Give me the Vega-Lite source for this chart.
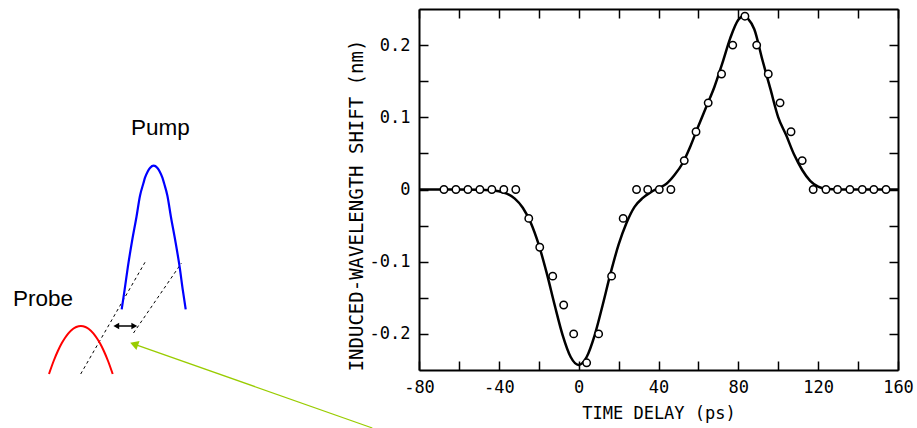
{
  "$schema": "https://vega.github.io/schema/vega-lite/v6.json",
  "background": "white",
  "padding": {"left": 0, "top": 8, "right": 0, "bottom": 0},
  "autosize": {"type": "pad"},
  "spacing": 0,
  "bounds": "flush",
  "config": {
    "view": {"stroke": null},
    "axis": {
      "grid": false,
      "domainColor": "black",
      "domainWidth": 2,
      "tickColor": "black",
      "tickWidth": 1.5,
      "labelFont": "DejaVu Sans Mono",
      "labelFontSize": 17,
      "labelColor": "#000",
      "titleFont": "DejaVu Sans Mono",
      "titleColor": "#000",
      "titleFontWeight": "normal"
    }
  },
  "datasets": {
    "diagram": [
      {"part": "pump", "x": 121.7, "y": 118.7},
      {"part": "pump", "x": 124.5, "y": 137.3},
      {"part": "pump", "x": 127.9, "y": 161.3},
      {"part": "pump", "x": 132.1, "y": 187.3},
      {"part": "pump", "x": 136.5, "y": 211.3},
      {"part": "pump", "x": 140.0, "y": 232.3},
      {"part": "pump", "x": 143.4, "y": 244.7},
      {"part": "pump", "x": 145.0, "y": 250.3},
      {"part": "pump", "x": 147.6, "y": 256.3},
      {"part": "pump", "x": 150.2, "y": 260.3},
      {"part": "pump", "x": 153.7, "y": 262.3},
      {"part": "pump", "x": 157.2, "y": 260.3},
      {"part": "pump", "x": 159.8, "y": 256.3},
      {"part": "pump", "x": 162.4, "y": 250.3},
      {"part": "pump", "x": 164.1, "y": 244.7},
      {"part": "pump", "x": 167.4, "y": 232.3},
      {"part": "pump", "x": 170.9, "y": 211.3},
      {"part": "pump", "x": 175.3, "y": 187.3},
      {"part": "pump", "x": 179.6, "y": 161.3},
      {"part": "pump", "x": 182.9, "y": 137.3},
      {"part": "pump", "x": 185.7, "y": 118.7},
      {"part": "probe", "x": 49.0, "y": 54},
      {"part": "probe", "x": 53.65, "y": 67},
      {"part": "probe", "x": 57.85, "y": 77},
      {"part": "probe", "x": 61.7, "y": 84.7},
      {"part": "probe", "x": 64.95, "y": 90},
      {"part": "probe", "x": 68.35, "y": 94.7},
      {"part": "probe", "x": 72.85, "y": 99},
      {"part": "probe", "x": 76.25, "y": 101},
      {"part": "probe", "x": 80.85, "y": 102},
      {"part": "probe", "x": 85.45, "y": 101},
      {"part": "probe", "x": 88.85, "y": 99},
      {"part": "probe", "x": 93.35, "y": 94.7},
      {"part": "probe", "x": 96.75, "y": 90},
      {"part": "probe", "x": 100.0, "y": 84.7},
      {"part": "probe", "x": 103.85, "y": 77},
      {"part": "probe", "x": 108.05, "y": 67},
      {"part": "probe", "x": 112.7, "y": 54},
      {"part": "guide", "id": "a", "x": 80.7, "y": 54},
      {"part": "guide", "id": "a", "x": 145.0, "y": 165.7},
      {"part": "guide", "id": "b", "x": 133.5, "y": 95},
      {"part": "guide", "id": "b", "x": 181.5, "y": 165},
      {"part": "delay", "x": 116.0, "y": 102},
      {"part": "delay", "x": 134.5, "y": 102},
      {"part": "delayLeftHead", "x": 116.3, "y": 102},
      {"part": "delayRightHead", "x": 134.3, "y": 102},
      {"part": "pointer", "x": 134.1, "y": 83.9},
      {"part": "pointer", "x": 372.3, "y": 0},
      {"part": "pointerHead", "x": 134.1, "y": 83.9},
      {"part": "label", "x": 160.3, "y": 293, "text": "Pump"},
      {"part": "label", "x": 43.0, "y": 122, "text": "Probe"}
    ],
    "curve": [
      {"delay": -80, "shift": 0},
      {"delay": -60, "shift": 0},
      {"delay": -50, "shift": -0.0002},
      {"delay": -44, "shift": -0.0009},
      {"delay": -40, "shift": -0.0024},
      {"delay": -36, "shift": -0.0057},
      {"delay": -32, "shift": -0.0126},
      {"delay": -28, "shift": -0.0252},
      {"delay": -24, "shift": -0.046},
      {"delay": -20, "shift": -0.0765},
      {"delay": -16, "shift": -0.1159},
      {"delay": -12, "shift": -0.1603},
      {"delay": -8, "shift": -0.202},
      {"delay": -4, "shift": -0.232},
      {"delay": 0, "shift": -0.243},
      {"delay": 4, "shift": -0.232},
      {"delay": 8, "shift": -0.202},
      {"delay": 12, "shift": -0.1603},
      {"delay": 16, "shift": -0.1159},
      {"delay": 20, "shift": -0.0765},
      {"delay": 24, "shift": -0.046},
      {"delay": 28, "shift": -0.024},
      {"delay": 32, "shift": -0.012},
      {"delay": 36, "shift": -0.004},
      {"delay": 40, "shift": 0.002},
      {"delay": 44, "shift": 0.008},
      {"delay": 48, "shift": 0.02},
      {"delay": 52, "shift": 0.036},
      {"delay": 56, "shift": 0.06},
      {"delay": 60, "shift": 0.088},
      {"delay": 64, "shift": 0.115},
      {"delay": 68, "shift": 0.142},
      {"delay": 72, "shift": 0.175},
      {"delay": 76, "shift": 0.21},
      {"delay": 80, "shift": 0.235},
      {"delay": 82.5, "shift": 0.24},
      {"delay": 85, "shift": 0.236},
      {"delay": 88, "shift": 0.222},
      {"delay": 92, "shift": 0.18},
      {"delay": 96, "shift": 0.14},
      {"delay": 100, "shift": 0.1},
      {"delay": 104, "shift": 0.075},
      {"delay": 108, "shift": 0.048},
      {"delay": 112, "shift": 0.027},
      {"delay": 116, "shift": 0.012},
      {"delay": 120, "shift": 0.004},
      {"delay": 124, "shift": 0.001},
      {"delay": 130, "shift": 0},
      {"delay": 160, "shift": 0}
    ],
    "points": [
      {"delay": -67.5, "shift": 0},
      {"delay": -61.5, "shift": 0},
      {"delay": -55.5, "shift": 0},
      {"delay": -49.5, "shift": 0},
      {"delay": -43.5, "shift": 0},
      {"delay": -37.5, "shift": 0},
      {"delay": -31.5, "shift": 0},
      {"delay": -25, "shift": -0.04},
      {"delay": -19.5, "shift": -0.08},
      {"delay": -13, "shift": -0.12},
      {"delay": -7.5, "shift": -0.16},
      {"delay": -2.5, "shift": -0.2},
      {"delay": 4, "shift": -0.24},
      {"delay": 10, "shift": -0.2},
      {"delay": 16.5, "shift": -0.12},
      {"delay": 22.3, "shift": -0.04},
      {"delay": 29, "shift": 0},
      {"delay": 34.6, "shift": 0},
      {"delay": 40.4, "shift": 0},
      {"delay": 46.2, "shift": 0},
      {"delay": 52.9, "shift": 0.04},
      {"delay": 58.8, "shift": 0.08},
      {"delay": 64.9, "shift": 0.12},
      {"delay": 71.6, "shift": 0.16},
      {"delay": 77.2, "shift": 0.2},
      {"delay": 83.3, "shift": 0.24},
      {"delay": 89.2, "shift": 0.2},
      {"delay": 95, "shift": 0.16},
      {"delay": 100.9, "shift": 0.12},
      {"delay": 106.4, "shift": 0.08},
      {"delay": 112, "shift": 0.04},
      {"delay": 117.5, "shift": 0},
      {"delay": 123.9, "shift": 0},
      {"delay": 129.7, "shift": 0},
      {"delay": 135.9, "shift": 0},
      {"delay": 142.1, "shift": 0},
      {"delay": 147.9, "shift": 0},
      {"delay": 154, "shift": 0}
    ]
  },
  "hconcat": [
    {
      "width": 419,
      "height": 419,
      "data": {"name": "diagram"},
      "encoding": {
        "x": {"field": "x", "type": "quantitative", "scale": {"domain": [0, 419], "nice": false, "zero": false}, "axis": null},
        "y": {"field": "y", "type": "quantitative", "scale": {"domain": [0, 419], "nice": false, "zero": false}, "axis": null}
      },
      "layer": [
        {
          "transform": [{"filter": "datum.part === 'guide'"}],
          "mark": {"type": "line", "color": "black", "strokeWidth": 1, "strokeDash": [3, 3]},
          "encoding": {"detail": {"field": "id"}}
        },
        {
          "transform": [{"filter": "datum.part === 'pump'"}],
          "mark": {"type": "line", "color": "#0000ff", "strokeWidth": 2.2, "interpolate": "monotone"}
        },
        {
          "transform": [{"filter": "datum.part === 'probe'"}],
          "mark": {"type": "line", "color": "#ff0000", "strokeWidth": 2, "interpolate": "monotone"}
        },
        {
          "transform": [{"filter": "datum.part === 'delay'"}],
          "mark": {"type": "line", "color": "black", "strokeWidth": 1.5}
        },
        {
          "transform": [{"filter": "datum.part === 'delayLeftHead'"}],
          "mark": {"type": "point", "shape": "triangle-left", "filled": true, "color": "black", "size": 45, "opacity": 1}
        },
        {
          "transform": [{"filter": "datum.part === 'delayRightHead'"}],
          "mark": {"type": "point", "shape": "triangle-right", "filled": true, "color": "black", "size": 45, "opacity": 1}
        },
        {
          "transform": [{"filter": "datum.part === 'pointer'"}],
          "mark": {"type": "line", "color": "#99cc00", "strokeWidth": 1.3}
        },
        {
          "transform": [{"filter": "datum.part === 'pointerHead'"}],
          "mark": {"type": "point", "shape": "triangle-up", "angle": 289.4, "filled": true, "color": "#99cc00", "size": 90, "opacity": 1}
        },
        {
          "transform": [{"filter": "datum.part === 'label'"}],
          "mark": {"type": "text", "font": "Liberation Sans", "fontSize": 22.5, "align": "center", "baseline": "alphabetic", "color": "black"},
          "encoding": {"text": {"field": "text"}}
        }
      ]
    },
    {
      "width": 479,
      "height": 361,
      "layer": [
        {
          "data": {"name": "curve"},
          "mark": {"type": "line", "interpolate": "monotone", "color": "black", "strokeWidth": 2.5},
          "encoding": {
            "x": {
              "field": "delay", "type": "quantitative",
              "scale": {"domain": [-80, 160], "nice": false, "zero": false},
              "axis": {
                "orient": "bottom",
                "values": [-80, -60, -40, -20, 0, 20, 40, 60, 80, 100, 120, 140, 160],
                "labelExpr": "datum.value % 40 === 0 ? (datum.value < 0 ? '-' + (-datum.value) : '' + datum.value) : ''",
                "labelFlush": false,
                "labelOverlap": false,
                "tickSize": -9,
                "labelPadding": 18,
                "title": "TIME DELAY (ps)",
                "titleFontSize": 17,
                "titlePadding": 10
              }
            },
            "y": {
              "field": "shift", "type": "quantitative",
              "scale": {"domain": [-0.25, 0.25], "nice": false, "zero": false},
              "axis": {
                "orient": "left",
                "values": [-0.2, -0.15, -0.1, -0.05, 0, 0.05, 0.1, 0.15, 0.2],
                "labelExpr": "abs(round(datum.value * 20)) % 2 === 0 ? (abs(datum.value) < 0.001 ? '0' : (datum.value < 0 ? '-' + format(-datum.value, '.1f') : format(datum.value, '.1f'))) : ''",
                "labelOverlap": false,
                "tickSize": -9,
                "labelPadding": 18,
                "title": "INDUCED-WAVELENGTH SHIFT (nm)",
                "titleFontSize": 19,
                "titlePadding": 3,
                "titleY": 196
              }
            }
          }
        },
        {
          "data": {"name": "points"},
          "mark": {"type": "point", "shape": "circle", "fill": "white", "stroke": "black", "strokeWidth": 1.5, "size": 55, "opacity": 1, "fillOpacity": 1},
          "encoding": {
            "x": {
              "field": "delay", "type": "quantitative",
              "axis": {
                "orient": "top",
                "values": [-80, -60, -40, -20, 0, 20, 40, 60, 80, 100, 120, 140, 160],
                "labels": false,
                "tickSize": -9,
                "title": null
              }
            },
            "y": {
              "field": "shift", "type": "quantitative",
              "axis": {
                "orient": "right",
                "values": [-0.2, -0.15, -0.1, -0.05, 0, 0.05, 0.1, 0.15, 0.2],
                "labels": false,
                "tickSize": -9,
                "title": null
              }
            }
          }
        }
      ],
      "resolve": {"axis": {"x": "independent", "y": "independent"}}
    }
  ]
}
